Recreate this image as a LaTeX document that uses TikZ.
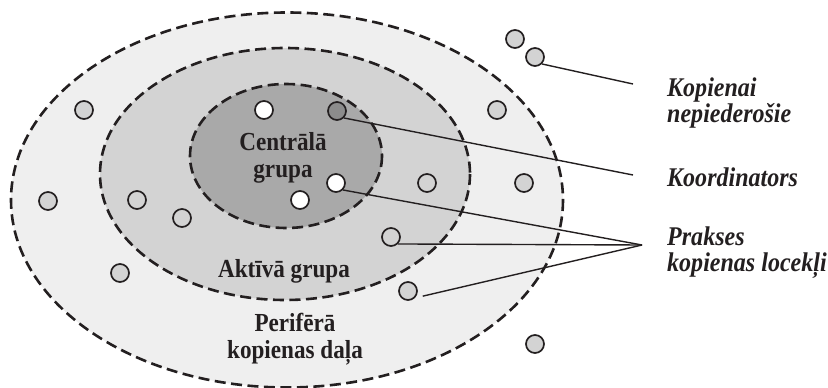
\documentclass[tikz,border=0pt]{standalone}
\usepackage{fontspec}
\setmainfont[FakeStretch=0.89]{Liberation Serif}
\definecolor{ink}{HTML}{231F20}
\definecolor{outerfill}{HTML}{EFEFEF}
\definecolor{midfill}{HTML}{D3D3D3}
\definecolor{innerfill}{HTML}{A9A9A9}
\definecolor{coordfill}{HTML}{8C8C8C}
\tikzset{
  zone/.style={draw=ink, line width=2.6pt, dash pattern=on 11pt off 5.5pt},
  member/.style={circle, draw=ink, line width=1.7pt, minimum size=18pt, inner sep=0pt},
  peri/.style={member, fill=midfill},
  act/.style={member, fill=midfill},
  core/.style={member, fill=white},
  coord/.style={member, fill=coordfill},
  link/.style={draw=ink, line width=1.4pt},
  zonelabel/.style={font=\fontsize{26}{27}\selectfont\bfseries, text=ink, align=center, inner sep=0pt},
  sidelabel/.style={font=\fontsize{27}{26}\selectfont\bfseries\itshape, text=ink, align=left, inner sep=0pt, anchor=base west}
}
\begin{document}
\begin{tikzpicture}[x=1pt, y=-1pt]
\useasboundingbox (0,0) rectangle (828,388);
% zones
\fill[outerfill] (287,200) ellipse [x radius=276, y radius=187.5];
\draw[zone] (287,200) ellipse [x radius=276, y radius=187.5];
\fill[midfill] (285,174) ellipse [x radius=185, y radius=126];
\draw[zone] (285,174) ellipse [x radius=185, y radius=126];
\fill[innerfill] (286,156) ellipse [x radius=96, y radius=72];
\draw[zone] (286,156) ellipse [x radius=96, y radius=72];
% zone labels (base = baseline of last line)
\node[zonelabel, anchor=base] (centr) at (283,177) {Centrālā\\grupa};
\node[zonelabel, anchor=base] (aktiva) at (284,277) {Aktīvā grupa};
\node[zonelabel, anchor=base] (perif) at (295,358) {Perifērā\\kopienas daļa};
% members
\node[peri] (p1) at (48,201) {};
\node[peri] (p2) at (84,110) {};
\node[peri] (p3) at (120,273) {};
\node[peri] (p4) at (408,291) {};
\node[peri] (p5) at (497,110) {};
\node[peri] (p6) at (524,183) {};
\node[peri] (p7) at (535,344) {};
\node[peri] (o1) at (515,39) {};
\node[peri] (o2) at (535,57) {};
\node[act] (a1) at (137,200) {};
\node[act] (a2) at (182,218) {};
\node[act] (a3) at (391,237) {};
\node[act] (a4) at (427,183) {};
\node[core] (c1) at (264,110) {};
\node[coord] (k) at (337,111) {};
\node[core] (c2) at (336,183) {};
\node[core] (c3) at (300,200) {};
% side labels (base = baseline of last line)
\node[sidelabel] (lkop) at (667,122) {Kopienai\\nepiederošie};
\node[sidelabel] (lkoo) at (667,186) {Koordinators};
\node[sidelabel] (lpra) at (667,271) {Prakses\\kopienas locekļi};
% connector ends
\coordinate (ekop) at (633,84);
\coordinate (ekoo) at (633,175);
\coordinate (epra) at (642,245);
\draw[link] (o2.south east) -- (ekop);
\draw[link] (k.south east) -- (ekoo);
\draw[link] (c2.south east) -- (epra);
\draw[link] (a3.south east) -- (epra);
\draw[link, shorten <=8pt] (p4.south east) -- (epra);
\end{tikzpicture}
\end{document}
